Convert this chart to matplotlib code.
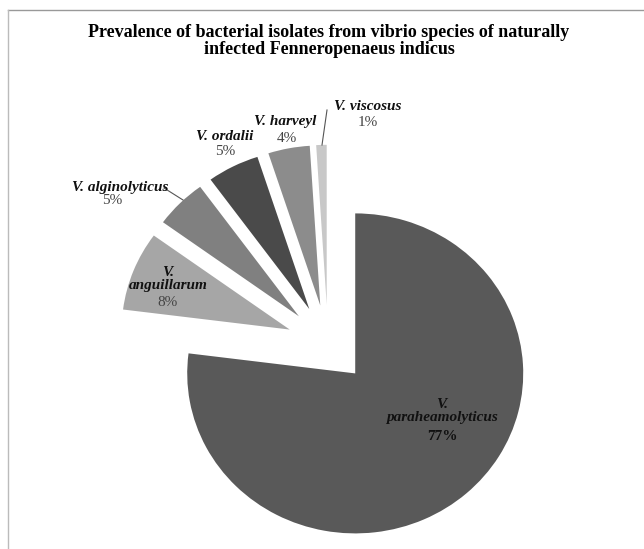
import matplotlib.pyplot as plt
from matplotlib.lines import Line2D

species = ["V.\nparaheamolyticus", "V.\nanguillarum", "V. alginolyticus", "V. ordalii", "V. harveyl", "V. viscosus"]
percent = [77, 8, 5, 5, 4, 1]
shades = ["#595959", "#a6a6a6", "#808080", "#4a4a4a", "#8c8c8c", "#c8c8c8"]
title = "Prevalence of bacterial isolates from vibrio species of naturally\ninfected Fenneropenaeus indicus"

W, H = 644, 549
fig = plt.figure(figsize=(W / 100, H / 100), dpi=100)
ax = fig.add_axes([0, 0, 1, 1])

# pie centre (pixels) and radii -- source image is a little squashed
cx, cy = 328, 344
rx, ry = 168, 160

wedges, _ = ax.pie(percent, explode=[0.245] * len(percent), startangle=90,
                   counterclock=False, colors=shades,
                   wedgeprops=dict(linewidth=0))
ax.set_xlim(-cx / rx, (W - cx) / rx)
ax.set_ylim((cy - H) / ry, cy / ry)
ax.set_aspect("auto")
ax.axis("off")


def px(x, y):
    return x / W, 1 - y / H


serif = "Liberation Serif"

# label positions in pixels: (name centre, percent centre)
label_xy = [
    ((442, 411), (442, 437)),
    ((168, 279), (168, 302)),
    ((120, 188), (112, 201)),
    ((225, 137), (225, 152)),
    ((285, 122), (287, 138)),
    ((368, 106), (368, 123)),
]

for name, pct, (npos, ppos) in zip(species, percent, label_xy):
    fig.text(*px(*npos), name, ha="center", va="center", family=serif,
             style="italic", weight="bold", size=11, color="#111111",
             linespacing=1.1)
    fig.text(*px(*ppos), f"{pct}%", ha="center", va="center", family=serif,
             weight="bold" if pct > 50 else "normal", size=11,
             color="#111111" if pct > 50 else "#444444")

# leader lines
for (x0, y0), (x1, y1) in [((164, 188), (183, 200)), ((327, 110), (322, 145))]:
    (a0, b0), (a1, b1) = px(x0, y0), px(x1, y1)
    fig.add_artist(Line2D([a0, a1], [b0, b1], color="#555555", lw=0.8))

fig.text(*px(329, 41), title, ha="center", va="center", family=serif,
         weight="bold", size=13, linespacing=1.05)

# outer frame (cropped: only top and left edges visible)
fig.add_artist(Line2D([8 / W, 1], [1 - 10 / H, 1 - 10 / H], color="#999999", lw=1))
fig.add_artist(Line2D([8 / W, 8 / W], [0, 1 - 10 / H], color="#bbbbbb", lw=1))

fig.savefig("out.png", dpi=100)
